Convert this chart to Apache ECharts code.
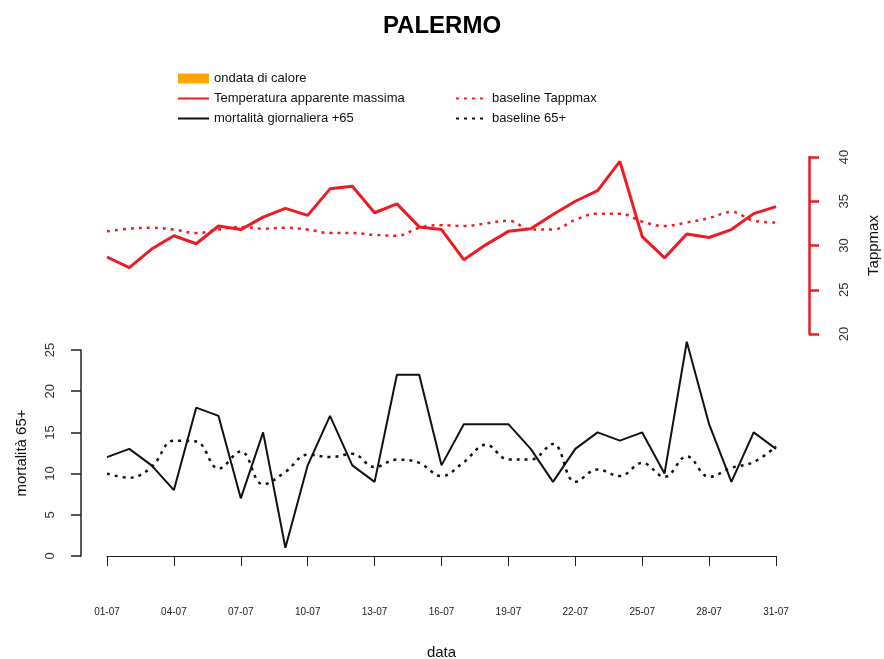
<!DOCTYPE html>
<html>
<head>
<meta charset="utf-8">
<script src="https://cdn.jsdelivr.net/npm/echarts@6/dist/echarts.min.js"></script>
<style>html,body{margin:0;padding:0;background:#fff}#c{width:884px;height:659px}</style>
</head>
<body>
<div id="c"></div>
<script>
var days = ['01-07','02-07','03-07','04-07','05-07','06-07','07-07','08-07','09-07','10-07','11-07','12-07','13-07','14-07','15-07','16-07','17-07','18-07','19-07','20-07','21-07','22-07','23-07','24-07','25-07','26-07','27-07','28-07','29-07','30-07','31-07'];
var tappmax = [28.7,27.5,29.6,31.1,30.2,32.2,31.8,33.2,34.2,33.4,36.4,36.7,33.7,34.7,32.1,31.8,28.4,30.1,31.6,31.9,33.5,35.0,36.2,39.5,31.0,28.6,31.3,30.9,31.8,33.6,34.4];
var baseTapp = [31.6,31.9,32.0,31.8,31.4,31.8,32.1,31.9,32.0,31.8,31.4,31.4,31.2,31.1,32.0,32.3,32.2,32.5,32.8,31.8,31.8,32.9,33.6,33.6,32.7,32.2,32.6,33.1,33.8,32.8,32.6];
var mort = [12,13,11,8,18,17,7,15,1,11,17,11,9,22,22,11,16,16,16,13,9,13,15,14,15,10,26,16,9,15,13];
var baseMort = [10.0,9.5,10.8,14.0,13.9,10.6,12.7,8.7,10.2,12.3,12.0,12.4,10.8,11.7,11.3,9.7,11.4,13.5,11.7,11.7,13.6,9.0,10.5,9.7,11.3,9.6,12.1,9.6,10.7,11.4,13.3];
var heatwave = [];

var FONT = '"Liberation Sans", Arial, sans-serif';
var RED = '#ec1c24';
var BLK = '#111111';
var noSym = {opacity: 0};
var chart = echarts.init(document.getElementById('c'), null, {renderer:'canvas'});
chart.setOption({
  animation: false,
  backgroundColor: '#fff',
  textStyle: {fontFamily: FONT},
  title: {text: 'PALERMO', left: 'center', top: 9, textStyle: {fontSize: 24, fontWeight: 'bold', color: '#000', fontFamily: FONT}},
  legend: [
    {orient: 'vertical', left: 177, top: 72, padding: 0, itemWidth: 31, itemHeight: 10, itemGap: 7,
     textStyle: {fontSize: 13, color: '#111', fontFamily: FONT},
     data: [{name:'ondata di calore', icon:'rect'},
            {name:'Temperatura apparente massima', itemStyle: noSym},
            {name:'mortalità giornaliera +65', itemStyle: noSym}]},
    {orient: 'vertical', left: 455, top: 92, padding: 0, itemWidth: 31, itemHeight: 10, itemGap: 7,
     textStyle: {fontSize: 13, color: '#111', fontFamily: FONT},
     data: [{name:'baseline Tappmax', itemStyle: noSym}, {name:'baseline 65+', itemStyle: noSym}]}
  ],
  grid: [
    {left: 107, right: 108, top: 157, height: 177, outerBoundsMode: 'none', containLabel: false},
    {left: 107, right: 108, top: 350, height: 206, outerBoundsMode: 'none', containLabel: false}
  ],
  xAxis: [
    {type: 'category', gridIndex: 0, data: days, boundaryGap: false, show: false},
    {type: 'category', gridIndex: 1, data: days, boundaryGap: false, offset: 22,
     axisLine: {lineStyle: {color: '#222', width: 1.2}},
     axisTick: {interval: 2, length: 10, lineStyle: {color: '#222'}},
     axisLabel: {interval: 2, fontSize: 10, color: '#222', margin: 29},
     splitLine: {show: false},
     name: 'data', nameLocation: 'middle', nameGap: 67, nameTextStyle: {fontSize: 15, color: '#111'}}
  ],
  yAxis: [
    {type: 'value', gridIndex: 0, position: 'right', offset: 33, min: 20, max: 40, interval: 5,
     axisLine: {show: true, lineStyle: {color: RED, width: 2.5}},
     axisTick: {show: true, length: 10, lineStyle: {color: RED, width: 2.5}},
     axisLabel: {rotate: 90, fontSize: 13, color: '#333', margin: 29},
     splitLine: {show: false},
     name: 'Tappmax', nameLocation: 'middle', nameRotate: 90, nameGap: 57, nameTextStyle: {fontSize: 15, color: '#111'}},
    {type: 'value', gridIndex: 1, position: 'left', offset: 26, min: 0, max: 25, interval: 5,
     axisLine: {show: true, lineStyle: {color: '#222', width: 1.5}},
     axisTick: {show: true, length: 10, lineStyle: {color: '#222', width: 1.5}},
     axisLabel: {rotate: 90, fontSize: 13, color: '#333', margin: 24},
     splitLine: {show: false},
     name: 'mortalità 65+', nameLocation: 'middle', nameRotate: 90, nameGap: 52, nameTextStyle: {fontSize: 15, color: '#111'}}
  ],
  series: [
    {name: 'ondata di calore', type: 'bar', xAxisIndex: 1, yAxisIndex: 1, data: heatwave, itemStyle: {color: '#ffa500'}},
    {name: 'Temperatura apparente massima', type: 'line', xAxisIndex: 0, yAxisIndex: 0, data: tappmax, symbol: 'none',
     lineStyle: {color: RED, width: 3}, itemStyle: {color: RED}, clip: false},
    {name: 'baseline Tappmax', type: 'line', xAxisIndex: 0, yAxisIndex: 0, data: baseTapp, symbol: 'none', smooth: 0.4,
     lineStyle: {color: RED, width: 2.5, type: [3, 5]}, itemStyle: {color: RED}, clip: false},
    {name: 'mortalità giornaliera +65', type: 'line', xAxisIndex: 1, yAxisIndex: 1, data: mort, symbol: 'none',
     lineStyle: {color: BLK, width: 2}, itemStyle: {color: BLK}, clip: false},
    {name: 'baseline 65+', type: 'line', xAxisIndex: 1, yAxisIndex: 1, data: baseMort, symbol: 'none', smooth: 0.4,
     lineStyle: {color: BLK, width: 2.5, type: [3, 5]}, itemStyle: {color: BLK}, clip: false}
  ]
});
</script>
</body>
</html>
